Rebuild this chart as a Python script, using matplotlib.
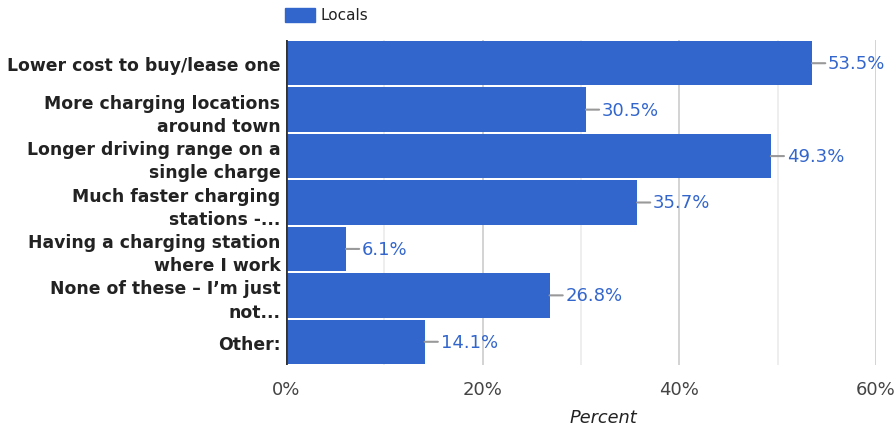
import matplotlib
matplotlib.use("Agg")
import matplotlib.pyplot as plt
from matplotlib.patches import Rectangle

plt.rcParams["font.family"] = ["DejaVu Sans"]

# data
labels = ["Lower cost to buy/lease one",
          "More charging locations\naround town",
          "Longer driving range on a\nsingle charge",
          "Much faster charging\nstations -...",
          "Having a charging station\nwhere I work",
          "None of these \u2013 I\u2019m just\nnot...",
          "Other:"]
values = [53.5, 30.5, 49.3, 35.7, 6.1, 26.8, 14.1]
ticks = [0, 20, 40, 60]
tick_labels = ["0%", "20%", "40%", "60%"]
series_name = "Locals"

blue = "#3366cc"

fig = plt.figure(figsize=(8.96, 4.31), dpi=100)
ax = fig.add_axes([286/896, 1 - 366/431, 590/896, 325/431])

y = list(range(len(values)))
ax.barh(y, values, height=0.955, color=blue, zorder=2)
ax.set_ylim(len(values) - 0.5, -0.5)
ax.set_xlim(0, 60)

# gridlines
for g in range(10, 61, 10):
    ax.axvline(g, color="#cccccc" if g % 20 == 0 else "#ebebeb", lw=1.2, zorder=1)
ax.axvline(0, color="#333333", lw=2, zorder=3)

for s in ax.spines.values():
    s.set_visible(False)

ax.set_yticks(y)
ax.set_yticklabels(labels, fontsize=12.4, fontweight="bold", color="#222222",
                   linespacing=1.38)
ax.tick_params(axis="y", length=0, pad=4)
ax.set_xticks(ticks)
ax.set_xticklabels(tick_labels, fontsize=13, color="#444444")
ax.tick_params(axis="x", length=0, pad=11)

for i, v in enumerate(values):
    ax.annotate(f"{v}%", xy=(v, i), xytext=(11.5, 0), textcoords="offset points",
                ha="left", va="center", fontsize=13, color=blue,
                arrowprops=dict(arrowstyle="-", color="#999999", lw=1.5,
                                shrinkA=0, shrinkB=0, relpos=(0, 0.5)))

fig.text(603/896, 1 - 418/431, "Percent", ha="center", va="center",
         fontsize=12.8, style="italic", color="#222222")

# legend
fig.patches.append(Rectangle((285/896, 1 - 23/431), 30/896, 14/431,
                             transform=fig.transFigure, color=blue))
fig.text(320/896, 1 - 16/431, series_name, ha="left", va="center",
         fontsize=11, color="#222222")

fig.savefig("out.png", dpi=100)
